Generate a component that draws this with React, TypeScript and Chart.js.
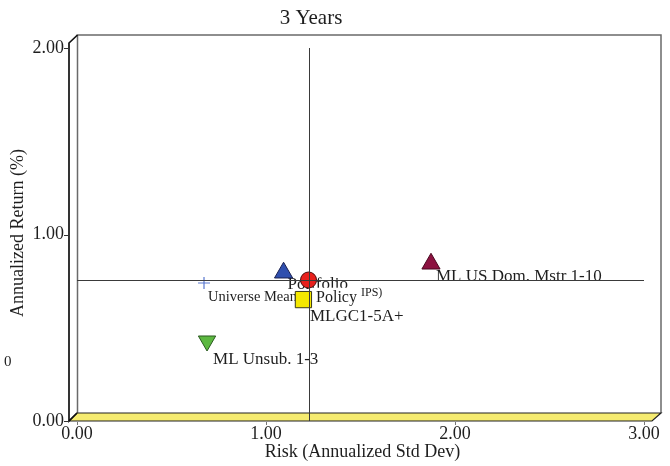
import React, { useEffect, useRef } from "react";
import { Chart, registerables } from "chart.js";

Chart.register(...registerables);

// ---------------- data ----------------
const seriesNames = [
  "Portfolio",
  "Policy (IPS)",
  "Universe Mean",
  "MLGC1-5A+",
  "ML US Dom. Mstr 1-10",
  "ML Unsub. 1-3",
];
const riskValues = [1.225, 1.093, 0.672, 1.198, 1.873, 0.688];
const returnValues = [0.756, 0.795, 0.74, 0.651, 0.843, 0.429];
const pointLabels = ["Portfolio", "Policy", "Universe Mean", "MLGC1-5A+", "ML US Dom. Mstr 1-10", "ML Unsub. 1-3"];
const policySuffix = "IPS)";
const xTickValues = [0, 1, 2, 3];
const yTickValues = [0, 1, 2];
const chartTitle = "3 Years";
const xAxisTitle = "Risk (Annualized Std Dev)";
const yAxisTitle = "Annualized Return (%)";
const strayLabel = "0";
const crossRisk = 1.225;
const crossReturn = 0.756;

// ---------------- styles ----------------
const FONT = "'Liberation Serif', 'Times New Roman', Times, serif";
const TEXT = "#1e1e1e";
const markerStyles = [
  { pointStyle: "circle", radius: 8, fill: "#e8201c", stroke: "#4a1010", rotation: 0, width: 1 },
  { pointStyle: "triangle", radius: 10.5, fill: "#2f4fae", stroke: "#1a2050", rotation: 0, width: 1 },
  { pointStyle: "cross", radius: 6, fill: "#5a78d0", stroke: "#5a78d0", rotation: 0, width: 1.2 },
  { pointStyle: "rect", radius: 11.5, fill: "#f5e800", stroke: "#3a3a1a", rotation: 0, width: 1 },
  { pointStyle: "triangle", radius: 10.5, fill: "#8c1240", stroke: "#4a0820", rotation: 0, width: 1 },
  { pointStyle: "triangle", radius: 10, fill: "#5cb840", stroke: "#2a5a20", rotation: 180, width: 1 },
];
// label placement relative to marker pixel: dx, dy, font size, white box
const labelStyles = [
  { dx: -21, dy: 5, size: 17, box: false },
  { dx: 32.5, dy: 25, size: 16, box: true },
  { dx: 4, dy: 14, size: 14.5, box: false },
  { dx: 6.5, dy: 16.5, size: 17, box: false },
  { dx: 5, dy: 13, size: 17, box: false },
  { dx: 6, dy: 19, size: 17, box: false },
];

const DEPTH_X = 8;
const DEPTH_Y = 8;

const decorPlugin = {
  id: "decor",
  beforeDatasetsDraw(chart: any) {
    const { ctx, chartArea } = chart;
    const xs = chart.scales.x;
    const ys = chart.scales.y;
    const L = chartArea.left;
    const R = chartArea.right;
    const B = chartArea.bottom;
    const frontL = L - DEPTH_X;
    const backTop = 35;
    const backBottom = B - DEPTH_Y;
    const backRight = R + 17;
    ctx.save();
    // back wall
    ctx.strokeStyle = "#6a6a6a";
    ctx.lineWidth = 1.5;
    ctx.beginPath();
    ctx.moveTo(L + 0.5, backBottom);
    ctx.lineTo(L + 0.5, backTop);
    ctx.lineTo(backRight, backTop);
    ctx.lineTo(backRight, backBottom);
    ctx.stroke();
    // floor
    ctx.fillStyle = "#f5eb70";
    ctx.strokeStyle = "#222";
    ctx.lineWidth = 1.2;
    ctx.beginPath();
    ctx.moveTo(frontL, B);
    ctx.lineTo(backRight - DEPTH_X - 1, B);
    ctx.lineTo(backRight, backBottom);
    ctx.lineTo(L, backBottom);
    ctx.closePath();
    ctx.fill();
    ctx.stroke();
    // front y axis
    ctx.strokeStyle = "#111";
    ctx.lineWidth = 1.7;
    ctx.beginPath();
    ctx.moveTo(L + 0.5, backTop);
    ctx.lineTo(frontL, backTop + DEPTH_Y);
    ctx.lineTo(frontL, B);
    ctx.lineTo(L, backBottom);
    ctx.stroke();
    // y tick marks
    ctx.lineWidth = 1;
    ctx.strokeStyle = "#333";
    yTickValues.forEach((v) => {
      const py = Math.round(ys.getPixelForValue(v)) + 0.5;
      ctx.beginPath();
      ctx.moveTo(frontL - 5, py);
      ctx.lineTo(frontL, py);
      ctx.stroke();
    });
    // x tick marks
    ctx.strokeStyle = "#777";
    xTickValues.forEach((v) => {
      const px = Math.round(xs.getPixelForValue(v)) + 0.5;
      ctx.beginPath();
      ctx.moveTo(px, B + 1);
      ctx.lineTo(px, B + 4);
      ctx.stroke();
    });
    // point labels
    ctx.textBaseline = "middle";
    ctx.textAlign = "left";
    pointLabels.forEach((text, i) => {
      const st = labelStyles[i];
      const px = xs.getPixelForValue(riskValues[i]) + st.dx;
      const py = ys.getPixelForValue(returnValues[i]) + st.dy;
      ctx.font = `${st.size}px ${FONT}`;
      if (st.box) {
        const w = ctx.measureText(text).width;
        ctx.font = `12px ${FONT}`;
        const w2 = ctx.measureText(policySuffix).width;
        ctx.fillStyle = "#fff";
        ctx.fillRect(px - 4, py - 10, w + w2 + 9, 18);
        ctx.fillStyle = TEXT;
        ctx.fillText(policySuffix, px + w + 4, py - 5);
        ctx.font = `${st.size}px ${FONT}`;
      }
      ctx.fillStyle = TEXT;
      ctx.fillText(text, px, py);
    });
    ctx.restore();
  },
  afterDatasetsDraw(chart: any) {
    const { ctx, chartArea } = chart;
    const xs = chart.scales.x;
    const ys = chart.scales.y;
    ctx.save();
    ctx.strokeStyle = "#3a3a3a";
    ctx.lineWidth = 1;
    const vx = Math.round(xs.getPixelForValue(crossRisk)) + 0.5;
    const hy = Math.round(ys.getPixelForValue(crossReturn)) + 0.5;
    ctx.beginPath();
    ctx.moveTo(vx, chartArea.top);
    ctx.lineTo(vx, chartArea.bottom);
    ctx.moveTo(chartArea.left, hy);
    ctx.lineTo(chartArea.right, hy);
    ctx.stroke();
    ctx.restore();
  },
  afterDraw(chart: any) {
    const { ctx, chartArea } = chart;
    ctx.save();
    ctx.fillStyle = TEXT;
    ctx.textAlign = "center";
    ctx.textBaseline = "middle";
    ctx.font = `21px ${FONT}`;
    ctx.fillText(chartTitle, 311, 18);
    ctx.font = `18px ${FONT}`;
    ctx.fillText(xAxisTitle, (chartArea.left + chartArea.right) / 2 + 2, 452);
    ctx.save();
    ctx.translate(18, 233);
    ctx.rotate(-Math.PI / 2);
    ctx.fillText(yAxisTitle, 0, 0);
    ctx.restore();
    ctx.textAlign = "left";
    ctx.font = `15px ${FONT}`;
    ctx.fillText(strayLabel, 4, 362);
    ctx.restore();
  },
};

export default function App() {
  const ref = useRef<HTMLCanvasElement>(null);
  useEffect(() => {
    const canvas = ref.current;
    if (!canvas) return;
    const datasets = seriesNames.map((name, i) => ({
      label: name,
      data: [{ x: riskValues[i], y: returnValues[i] }],
      pointStyle: markerStyles[i].pointStyle as any,
      pointRadius: markerStyles[i].radius,
      pointRotation: markerStyles[i].rotation,
      pointBackgroundColor: markerStyles[i].fill,
      pointBorderColor: markerStyles[i].stroke,
      pointBorderWidth: markerStyles[i].width,
      backgroundColor: markerStyles[i].fill,
      borderColor: markerStyles[i].stroke,
      showLine: false,
    }));
    const tickFont = { family: FONT, size: 18 };
    const chart = new Chart(canvas, {
      type: "scatter",
      data: { datasets },
      plugins: [decorPlugin],
      options: {
        responsive: false,
        animation: false,
        layout: { padding: { top: 48, right: 26, left: 0, bottom: 0 } },
        plugins: {
          legend: { display: false },
          tooltip: { enabled: false },
          title: { display: false },
        },
        scales: {
          x: {
            type: "linear",
            min: 0,
            max: 3,
            afterFit: (s: any) => {
              s.height = 45;
            },
            afterBuildTicks: (s: any) => {
              s.ticks = xTickValues.map((v) => ({ value: v }));
            },
            ticks: {
              callback: (v: any) => Number(v).toFixed(2),
              padding: 2,
              font: tickFont,
              color: TEXT,
              maxRotation: 0,
              autoSkip: false,
            },
            grid: { display: false, drawTicks: false },
            border: { display: false },
          },
          y: {
            type: "linear",
            min: 0,
            max: 2,
            afterFit: (s: any) => {
              s.width = 77;
            },
            afterBuildTicks: (s: any) => {
              s.ticks = yTickValues.map((v) => ({ value: v }));
            },
            ticks: {
              callback: (v: any) => Number(v).toFixed(2),
              padding: 13,
              font: tickFont,
              color: TEXT,
              autoSkip: false,
            },
            grid: { display: false, drawTicks: false },
            border: { display: false },
          },
        },
      } as any,
    });
    return () => chart.destroy();
  }, []);
  return (
    <div style={{ position: "fixed", left: 0, top: 0, width: 670, height: 466, background: "#fff" }}>
      <canvas ref={ref} width={670} height={466} />
    </div>
  );
}
